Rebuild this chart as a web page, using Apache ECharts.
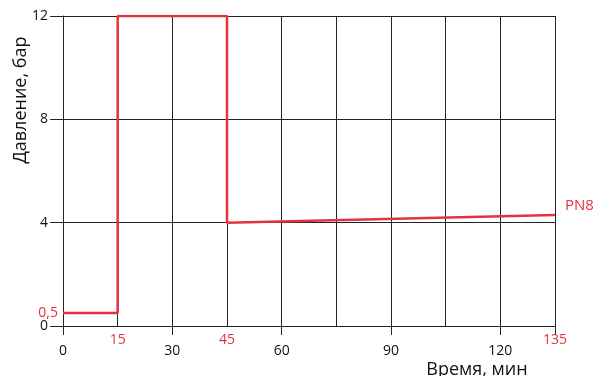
<!DOCTYPE html>
<html>
<head>
<meta charset="utf-8">
<script src="https://cdn.jsdelivr.net/npm/echarts@6/dist/echarts.min.js"></script>
<style>
  html, body { margin: 0; padding: 0; background: #fff; }
  #chart { width: 600px; height: 376px; }
</style>
</head>
<body>
<div id="chart"></div>
<script>
(function () {
  // data
  const timeMin = [0, 15, 15, 45, 45, 135];
  const pressureBar = [0.5, 0.5, 12, 12, 4, 4.3];
  const blackXTicks = [0, 30, 60, 90, 120];
  const redXTicks = [15, 45, 135];
  const blackYTicks = [0, 4, 8, 12];
  const redYTicks = [0.5];
  const seriesName = "PN8";

  const red = "#e5323d";
  const font = "Open Sans";

  const chart = echarts.init(document.getElementById("chart"));

  const option = {
    animation: false,
    grid: {
      left: 63,
      right: 45,
      top: 16,
      bottom: 50,
      containLabel: false,
      outerBoundsMode: "none",
    },
    xAxis: [
      {
        type: "value",
        min: 0,
        max: 135,
        interval: 15,
        name: "Время, мин",
        nameLocation: "middle",
        nameGap: 35,
        nameMoveOverlap: false,
        nameTextStyle: {
          fontFamily: font,
          fontSize: 18,
          color: "#111",
          padding: [0, 0, 0, 336],
        },
        axisLine: { show: true, onZero: false, lineStyle: { color: "#222", width: 1 } },
        axisTick: { show: false },
        axisLabel: {
          customValues: blackXTicks,
          margin: 18,
          fontFamily: font,
          fontSize: 14,
          color: "#111",
        },
        splitLine: { show: false },
      },
      {
        type: "value",
        min: 0,
        max: 135,
        interval: 15,
        position: "bottom",
        axisLine: { show: false },
        axisTick: { show: false },
        splitLine: { show: true, lineStyle: { color: "#222", width: 1 } },
        axisLabel: {
          customValues: redXTicks,
          margin: 7,
          fontFamily: font,
          fontSize: 14,
          color: red,
        },
      },
      {
        // tick marks below the axis
        type: "value",
        min: 0,
        max: 135,
        interval: 30,
        position: "bottom",
        axisLine: { show: true, onZero: false, lineStyle: { color: "#222", width: 1 } },
        axisTick: {
          show: true,
          length: 9,
          lineStyle: { color: "#222", width: 1 },
        },
        axisLabel: { show: false },
        splitLine: { show: false },
      },
    ],
    yAxis: [
      {
        type: "value",
        min: 0,
        max: 12,
        interval: 4,
        name: "Давление, бар",
        nameLocation: "middle",
        nameGap: 33,
        nameMoveOverlap: false,
        nameTextStyle: {
          fontFamily: font,
          fontSize: 18,
          color: "#111",
          padding: [0, 0, 0, 142],
        },
        axisLine: { show: true, lineStyle: { color: "#222", width: 1 } },
        axisTick: { show: true, length: 13, lineStyle: { color: "#222" } },
        axisLabel: {
          customValues: blackYTicks,
          margin: 15,
          fontFamily: font,
          fontSize: 14,
          color: "#111",
        },
        splitLine: { show: true, lineStyle: { color: "#222", width: 1 } },
      },
      {
        type: "value",
        min: 0,
        max: 12,
        interval: 4,
        position: "left",
        axisLine: { show: false },
        axisTick: { show: false },
        splitLine: { show: false },
        axisLabel: {
          customValues: redYTicks,
          margin: 5,
          fontFamily: font,
          fontSize: 14,
          color: red,
          formatter: (v) => String(v).replace(".", ","),
        },
      },
    ],
    series: [
      {
        name: seriesName,
        type: "line",
        data: timeMin.map((t, i) => [t, pressureBar[i]]),
        showSymbol: false,
        lineStyle: { color: red, width: 2.5 },
        endLabel: {
          show: true,
          formatter: seriesName,
          color: red,
          fontFamily: font,
          fontSize: 15,
          offset: [2, -9],
        },
        z: 5,
      },
    ],
  };

  chart.setOption(option);
})();
</script>
</body>
</html>
